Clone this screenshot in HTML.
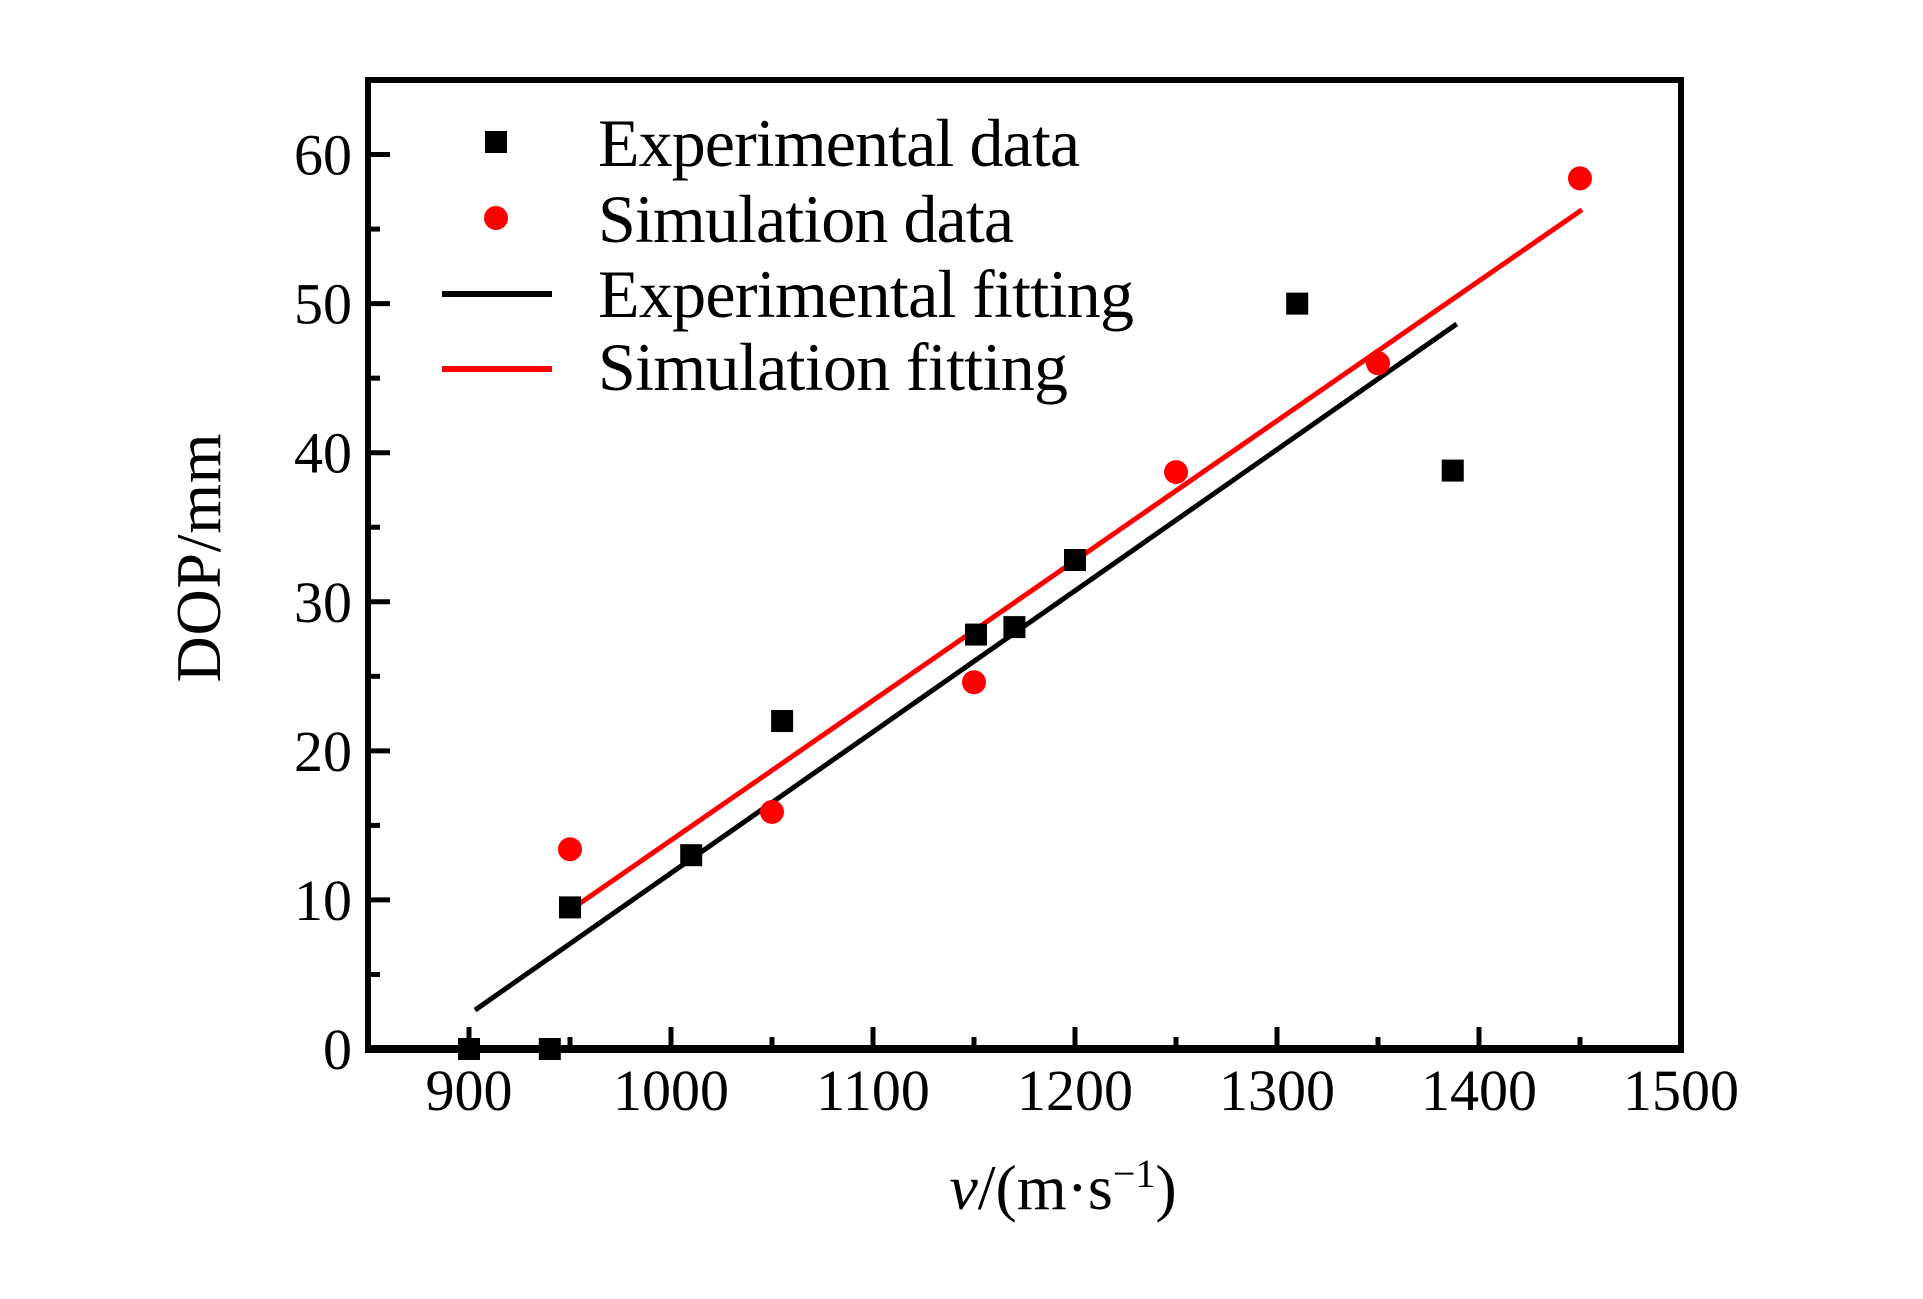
<!DOCTYPE html>
<html><head><meta charset="utf-8"><style>
html,body{margin:0;padding:0;background:#fff;}
svg{display:block;font-family:"Liberation Serif",serif;}
</style></head><body>
<svg id="chart" width="1923" height="1299" viewBox="0 0 1923 1299" xmlns="http://www.w3.org/2000/svg">
<g id="marks"></g>
<g id="axes"></g>
<g id="legend">
  <rect x="485" y="131" width="22" height="22" fill="#000"/>
  <text x="598" y="166" font-size="68" textLength="482">Experimental data</text>
  <circle cx="496" cy="218" r="12" fill="#ff0000"/>
  <text x="598" y="242" font-size="68" textLength="416">Simulation data</text>
  <line x1="442" y1="294" x2="552" y2="294" stroke="#000" stroke-width="6"/>
  <text x="598" y="317" font-size="68" textLength="536">Experimental fitting</text>
  <line x1="442" y1="369" x2="552" y2="369" stroke="#ff0000" stroke-width="6"/>
  <text x="598" y="390" font-size="68" textLength="470">Simulation fitting</text>
</g>
<text transform="translate(220,558) rotate(-90)" text-anchor="middle" font-size="64" textLength="249">DOP/mm</text>
<text x="1063" y="1209" text-anchor="middle" font-size="64"><tspan font-style="italic">v</tspan>/(m·s<tspan baseline-shift="super" font-size="40">−1</tspan>)</text>
</svg>
<script>
const expX = [900, 940, 950, 1010, 1055, 1151, 1170, 1200, 1310, 1387];
const expY = [0, 0, 9.5, 13, 22, 27.8, 28.3, 32.8, 50, 38.8];
const simX = [950, 1050, 1150, 1250, 1350, 1450];
const simY = [13.4, 15.9, 24.6, 38.7, 46, 58.4];
const expFit = [0.0947, -82.9, 903, 1389];   // slope, intercept, xStart, xEnd
const simFit = [0.0938, -79.8, 950, 1451];
const xTicks = [900, 1000, 1100, 1200, 1300, 1400, 1500];
const xMinor = [950, 1050, 1150, 1250, 1350, 1450];
const yTicks = [0, 10, 20, 30, 40, 50, 60];
const yMinor = [5, 15, 25, 35, 45, 55];

const L=368, R=1681, T=80, B=1049, X0=850, X1=1500, Y0=0, Y1=65;
const NS='http://www.w3.org/2000/svg';
function sx(v){return L+(v-X0)/(X1-X0)*(R-L);}
function sy(v){return B-(v-Y0)/(Y1-Y0)*(B-T);}
function mk(tag,attrs,parent){const e=document.createElementNS(NS,tag);for(const k in attrs)e.setAttribute(k,attrs[k]);parent.appendChild(e);return e;}
const marks=document.getElementById('marks');
const axes=document.getElementById('axes');

function fitLine(f,color,name){
  const l=mk('line',{x1:sx(f[2]),y1:sy(f[0]*f[2]+f[1]),x2:sx(f[3]),y2:sy(f[0]*f[3]+f[1]),stroke:color,'stroke-width':5},marks);
  
  
}
fitLine(expFit,'#000','experimental-fitting-line');
fitLine(simFit,'#ff0000','simulation-fitting-line');

expX.forEach((x,i)=>{
  const r=mk('rect',{x:sx(x)-11,y:sy(expY[i])-11,width:22,height:22,fill:'#000'},marks);
  
  
});
simX.forEach((x,i)=>{
  const c=mk('circle',{cx:sx(x),cy:sy(simY[i]),r:12,fill:'#ff0000'},marks);
  
  
});

const frame=mk('rect',{x:L,y:T,width:R-L,height:B-T,fill:'none',stroke:'#000','stroke-width':6},axes);


const bl=mk('line',{x1:L-3,y1:B,x2:R+3,y2:B,stroke:'#000','stroke-width':8},axes);



xTicks.forEach(v=>{
  const t=mk('line',{x1:sx(v),y1:B,x2:sx(v),y2:B-22,stroke:'#000','stroke-width':5},axes);
  
  
  const tx=mk('text',{x:sx(v),y:1110,'text-anchor':'middle','font-size':58},axes);
  tx.textContent=v;
  
  
});
xMinor.forEach(v=>{
  const t=mk('line',{x1:sx(v),y1:B,x2:sx(v),y2:B-12,stroke:'#000','stroke-width':5},axes);
  
  
});
yTicks.forEach(v=>{
  const t=mk('line',{x1:L,y1:sy(v),x2:L+22,y2:sy(v),stroke:'#000','stroke-width':5},axes);
  
  
  const tx=mk('text',{x:352,y:sy(v)+20,'text-anchor':'end','font-size':58},axes);
  tx.textContent=v;
  
  
});
yMinor.forEach(v=>{
  const t=mk('line',{x1:L,y1:sy(v),x2:L+12,y2:sy(v),stroke:'#000','stroke-width':5},axes);
  
  
});
</script>
</body></html>
